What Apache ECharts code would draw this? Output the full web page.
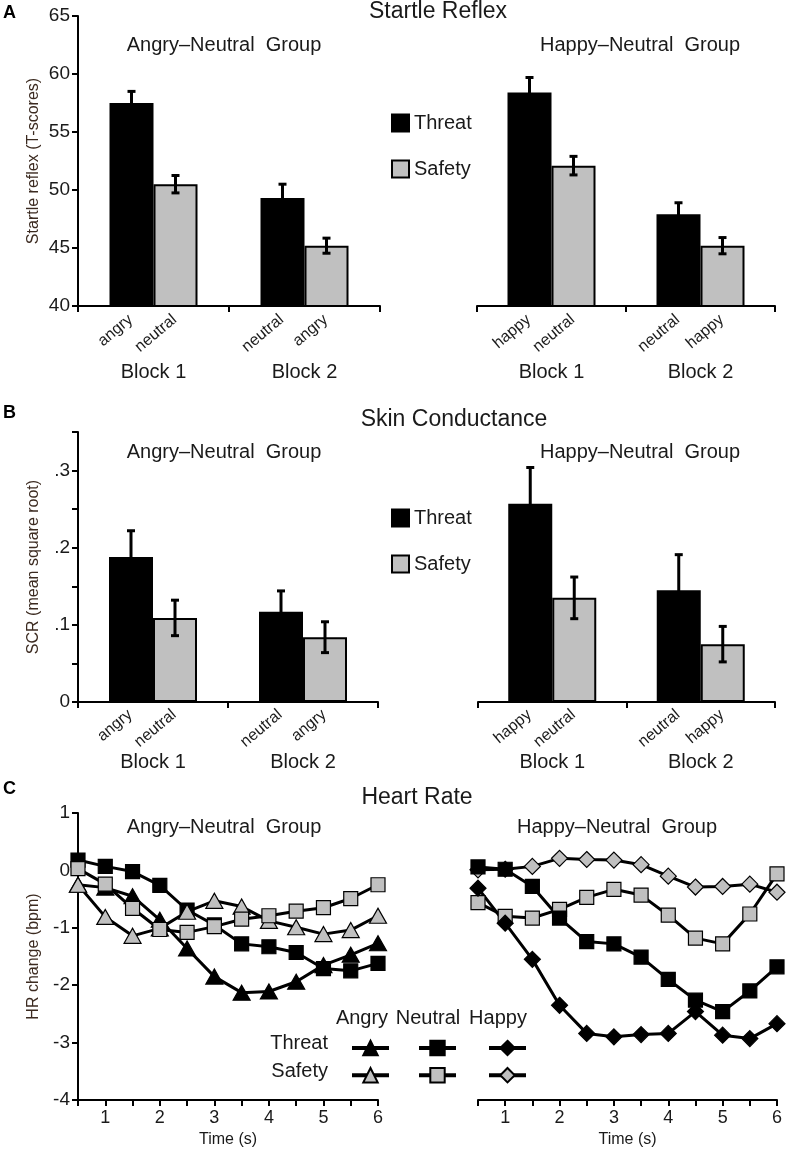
<!DOCTYPE html>
<html><head><meta charset="utf-8">
<script src="https://cdn.jsdelivr.net/npm/echarts@6/dist/echarts.min.js"></script>
<style>html,body{margin:0;padding:0;background:#fff}#c{width:787px;height:1153px}</style>
</head><body><div id="c"></div>
<script>
// ---------- DATA ----------
const blocks = ['Block 1', 'Block 2'];
// Startle reflex (T-scores) — mean and SE per block
const startleAngryThreat = [57.5, 49.3];
const startleAngryThreatSE = [1.0, 1.2];
const startleAngrySafety = [50.5, 45.2];
const startleAngrySafetySE = [0.75, 0.65];
const startleHappyThreat = [58.4, 47.9];
const startleHappyThreatSE = [1.3, 1.0];
const startleHappySafety = [52.1, 45.2];
const startleHappySafetySE = [0.8, 0.7];
// Skin conductance (mean square root)
const scrAngryThreat = [0.188, 0.117];
const scrAngryThreatSE = [0.034, 0.027];
const scrAngrySafety = [0.109, 0.084];
const scrAngrySafetySE = [0.023, 0.020];
const scrHappyThreat = [0.257, 0.145];
const scrHappyThreatSE = [0.047, 0.046];
const scrHappySafety = [0.135, 0.075];
const scrHappySafetySE = [0.027, 0.023];
// cue labels under each bar
const angryThreatCues = ['angry', 'neutral'];
const angrySafetyCues = ['neutral', 'angry'];
const happyThreatCues = ['happy', 'neutral'];
const happySafetyCues = ['neutral', 'happy'];
// Heart rate change (bpm)
const timePoints = [0.5, 1, 1.5, 2, 2.5, 3, 3.5, 4, 4.5, 5, 5.5, 6];
const hrAngryGroupAngryThreat   = [-0.25, -0.30, -0.45, -0.86, -1.36, -1.85, -2.13, -2.11, -1.94, -1.65, -1.47, -1.27];
const hrAngryGroupAngrySafety   = [-0.25, -0.81, -1.14, -1.01, -0.72, -0.53, -0.63, -0.88, -0.99, -1.11, -1.04, -0.79];
const hrAngryGroupNeutralThreat = [0.18, 0.07, -0.02, -0.26, -0.69, -0.95, -1.28, -1.33, -1.43, -1.71, -1.75, -1.62];
const hrAngryGroupNeutralSafety = [0.03, -0.24, -0.66, -1.03, -1.08, -0.98, -0.85, -0.79, -0.71, -0.65, -0.49, -0.25];
const hrHappyGroupNeutralThreat = [0.06, 0.02, -0.28, -0.83, -1.24, -1.28, -1.51, -1.90, -2.26, -2.46, -2.10, -1.68];
const hrHappyGroupHappyThreat   = [-0.31, -0.92, -1.55, -2.35, -2.84, -2.90, -2.86, -2.84, -2.46, -2.87, -2.93, -2.67];
const hrHappyGroupNeutralSafety = [-0.56, -0.80, -0.83, -0.68, -0.47, -0.33, -0.43, -0.78, -1.18, -1.28, -0.76, -0.06];
const hrHappyGroupHappySafety   = [0.01, 0.02, 0.07, 0.21, 0.19, 0.18, 0.10, -0.10, -0.29, -0.28, -0.24, -0.38];

// ---------- STYLE ----------
const FONT = '"Liberation Sans", Arial, Helvetica, sans-serif';
const GRAY = '#c0c0c0';
const TXT = '#1a1a1a';
const NAMECOL = '#3b2a20';
const BAR_W = 44;

const chart = echarts.init(document.getElementById('c'), null, {renderer: 'canvas'});

function text(str, x, y, size, opts) {
  opts = opts || {};
  return {
    type: 'text', x: x, y: y, silent: true,
    style: {
      text: str, fill: opts.fill || TXT,
      font: (opts.bold ? 'bold ' : '') + size + 'px ' + FONT,
      align: opts.align || 'center', textAlign: opts.align || 'center',
      verticalAlign: 'middle', textVerticalAlign: 'middle'
    }
  };
}

const axisLine = {show: true, onZero: false, lineStyle: {color: '#000', width: 2}};
const axisTick = {show: true, length: 6, lineStyle: {color: '#000', width: 2}};

function catAxis(gi, margin) {
  return {
    type: 'category', gridIndex: gi, data: blocks, boundaryGap: true,
    axisLine: axisLine, axisTick: axisTick,
    axisLabel: {margin: margin, fontSize: 20, color: TXT, fontFamily: FONT},
    splitLine: {show: false}
  };
}
function valAxis(gi, min, max, interval, show, name, fmt) {
  return {
    type: 'value', gridIndex: gi, min: min, max: max, interval: interval, show: show,
    name: name, nameLocation: 'middle', nameRotate: 90, nameGap: 36,
    nameTextStyle: {fontSize: 16, color: NAMECOL, fontFamily: FONT},
    axisLine: axisLine, axisTick: axisTick,
    axisLabel: {fontSize: 19, color: TXT, fontFamily: FONT, margin: 8, formatter: fmt},
    splitLine: {show: false}
  };
}

function barSeries(name, xi, vals, cues, fill, labelDist) {
  return {
    type: 'bar', name: name, xAxisIndex: xi, yAxisIndex: xi, data: vals,
    barWidth: BAR_W, barGap: '0%', z: 2,
    itemStyle: {color: fill, borderColor: '#000', borderWidth: 2},
    label: {
      show: true, position: 'bottom', distance: labelDist, rotate: 40,
      align: 'right', verticalAlign: 'middle', offset: [-1, 0],
      formatter: p => cues[p.dataIndex],
      fontSize: 16, color: TXT, fontFamily: FONT
    }
  };
}

function errSeries(xi, vals, ses, side) {
  return {
    type: 'custom', xAxisIndex: xi, yAxisIndex: xi, silent: true, z: 5,
    data: vals.map((v, i) => [i, v, ses[i]]),
    encode: {x: 0, y: 1},
    renderItem: (params, api) => {
      const c = api.value(0), v = api.value(1), se = api.value(2);
      const top = api.coord([c, v + se]);
      const bot = api.coord([c, v - se]);
      const x = top[0] + side * BAR_W / 2;
      const cap = 4;
      const st = {stroke: '#000', lineWidth: 3};
      return {type: 'group', children: [
        {type: 'line', shape: {x1: x, y1: top[1], x2: x, y2: bot[1]}, style: st},
        {type: 'line', shape: {x1: x - cap, y1: top[1], x2: x + cap, y2: top[1]}, style: st},
        {type: 'line', shape: {x1: x - cap, y1: bot[1], x2: x + cap, y2: bot[1]}, style: st}
      ]};
    }
  };
}

function hrSeries(name, xi, vals, symbol, size, fill) {
  return {
    type: 'line', name: name, xAxisIndex: xi, yAxisIndex: xi,
    data: timePoints.map((t, i) => [t, vals[i]]),
    symbol: symbol, symbolSize: size, showSymbol: true,
    lineStyle: {color: '#000', width: 3},
    itemStyle: {color: fill, borderColor: '#000', borderWidth: 1.2},
    z: 3
  };
}

const scrFmt = v => {
  const k = Math.round(v * 100);
  if (k % 10 !== 0) return '';
  return k === 0 ? '0' : '.' + (k / 10);
};
const timeFmt = v => Math.abs(v - Math.round(v)) < 1e-9 ? String(Math.round(v)) : '';

function hrLegend(names, left) {
  return {
    data: names, orient: 'vertical', left: left, top: 1034, itemWidth: 37, itemHeight: 18,
    itemGap: 10, selectedMode: false, formatter: () => '', textStyle: {fontSize: 1},
    lineStyle: {width: 4}
  };
}

const option = {
  animation: false,
  backgroundColor: '#fff',
  textStyle: {fontFamily: FONT},
  grid: [
    {left: 78, top: 16, width: 302, height: 290},
    {left: 477, top: 16, width: 298, height: 290},
    {left: 78, top: 432, width: 300, height: 270},
    {left: 478, top: 432, width: 297, height: 270},
    {left: 78, top: 813, width: 300, height: 287},
    {left: 478, top: 813, width: 299, height: 287}
  ],
  xAxis: [
    catAxis(0, 56), catAxis(1, 56), catAxis(2, 50), catAxis(3, 50),
    {type: 'value', gridIndex: 4, min: 0.5, max: 6, interval: 0.5,
     name: 'Time (s)', nameLocation: 'middle', nameGap: 32,
     nameTextStyle: {fontSize: 16, color: TXT, fontFamily: FONT},
     axisLine: axisLine, axisTick: axisTick, splitLine: {show: false},
     axisLabel: {fontSize: 18, color: TXT, fontFamily: FONT, margin: 9, formatter: timeFmt}},
    {type: 'value', gridIndex: 5, min: 0.5, max: 6, interval: 0.5,
     name: 'Time (s)', nameLocation: 'middle', nameGap: 32,
     nameTextStyle: {fontSize: 16, color: TXT, fontFamily: FONT},
     axisLine: axisLine, axisTick: axisTick, splitLine: {show: false},
     axisLabel: {fontSize: 18, color: TXT, fontFamily: FONT, margin: 9, formatter: timeFmt}}
  ],
  yAxis: [
    valAxis(0, 40, 65, 5, true, 'Startle reflex (T-scores)'),
    valAxis(1, 40, 65, 5, false, ''),
    valAxis(2, 0, 0.35, 0.05, true, 'SCR (mean square root)', scrFmt),
    valAxis(3, 0, 0.35, 0.05, false, ''),
    valAxis(4, -4, 1, 1, true, 'HR change (bpm)'),
    valAxis(5, -4, 1, 1, false, '')
  ],
  legend: [
    {data: ['Threat', 'Safety'], orient: 'vertical', left: 386, top: 108, itemWidth: 17, itemHeight: 17,
     itemGap: 26, icon: 'rect', selectedMode: false, textStyle: {fontSize: 20, color: TXT, fontFamily: FONT}},
    {data: ['Threat', 'Safety'], orient: 'vertical', left: 386, top: 503, itemWidth: 17, itemHeight: 17,
     itemGap: 26, icon: 'rect', selectedMode: false, textStyle: {fontSize: 20, color: TXT, fontFamily: FONT}},
    hrLegend(['Angry Threat', 'Angry Safety'], 345),
    hrLegend(['Neutral Threat', 'Neutral Safety'], 412),
    hrLegend(['Happy Threat', 'Happy Safety'], 482)
  ],
  graphic: [
    text('A', 3, 13, 18, {bold: true, align: 'left', fill: '#000'}),
    text('B', 3, 413, 18, {bold: true, align: 'left', fill: '#000'}),
    text('C', 3, 789, 18, {bold: true, align: 'left', fill: '#000'}),
    text('Startle Reflex', 438, 12, 23),
    text('Skin Conductance', 454, 420, 23),
    text('Heart Rate', 417, 798, 23),
    text('Angry\u2013Neutral  Group', 224, 45, 20),
    text('Happy\u2013Neutral  Group', 640, 45, 20),
    text('Angry\u2013Neutral  Group', 224, 452, 20),
    text('Happy\u2013Neutral  Group', 640, 452, 20),
    text('Angry\u2013Neutral  Group', 224, 827, 20),
    text('Happy\u2013Neutral  Group', 617, 827, 20),
    text('Angry', 362, 1018, 20),
    text('Neutral', 428, 1018, 20),
    text('Happy', 498, 1018, 20),
    text('Threat', 328, 1043, 20, {align: 'right'}),
    text('Safety', 328, 1071, 20, {align: 'right'})
  ],
  series: [
    barSeries('Threat', 0, startleAngryThreat, angryThreatCues, '#000', 10),
    barSeries('Safety', 0, startleAngrySafety, angrySafetyCues, GRAY, 10),
    errSeries(0, startleAngryThreat, startleAngryThreatSE, -1),
    errSeries(0, startleAngrySafety, startleAngrySafetySE, 1),
    barSeries('Threat', 1, startleHappyThreat, happyThreatCues, '#000', 10),
    barSeries('Safety', 1, startleHappySafety, happySafetyCues, GRAY, 10),
    errSeries(1, startleHappyThreat, startleHappyThreatSE, -1),
    errSeries(1, startleHappySafety, startleHappySafetySE, 1),
    barSeries('Threat', 2, scrAngryThreat, angryThreatCues, '#000', 10),
    barSeries('Safety', 2, scrAngrySafety, angrySafetyCues, GRAY, 10),
    errSeries(2, scrAngryThreat, scrAngryThreatSE, -1),
    errSeries(2, scrAngrySafety, scrAngrySafetySE, 1),
    barSeries('Threat', 3, scrHappyThreat, happyThreatCues, '#000', 10),
    barSeries('Safety', 3, scrHappySafety, happySafetyCues, GRAY, 10),
    errSeries(3, scrHappyThreat, scrHappyThreatSE, -1),
    errSeries(3, scrHappySafety, scrHappySafetySE, 1),
    hrSeries('Angry Threat', 4, hrAngryGroupAngryThreat, 'triangle', [17, 15], '#000'),
    hrSeries('Neutral Threat', 4, hrAngryGroupNeutralThreat, 'rect', 14, '#000'),
    hrSeries('Angry Safety', 4, hrAngryGroupAngrySafety, 'triangle', [17, 15], GRAY),
    hrSeries('Neutral Safety', 4, hrAngryGroupNeutralSafety, 'rect', 14, GRAY),
    hrSeries('Happy Safety', 5, hrHappyGroupHappySafety, 'diamond', 16, GRAY),
    hrSeries('Neutral Safety', 5, hrHappyGroupNeutralSafety, 'rect', 14, GRAY),
    hrSeries('Neutral Threat', 5, hrHappyGroupNeutralThreat, 'rect', 14, '#000'),
    hrSeries('Happy Threat', 5, hrHappyGroupHappyThreat, 'diamond', 16, '#000')
  ]
};
chart.setOption(option);
</script>
</body></html>
